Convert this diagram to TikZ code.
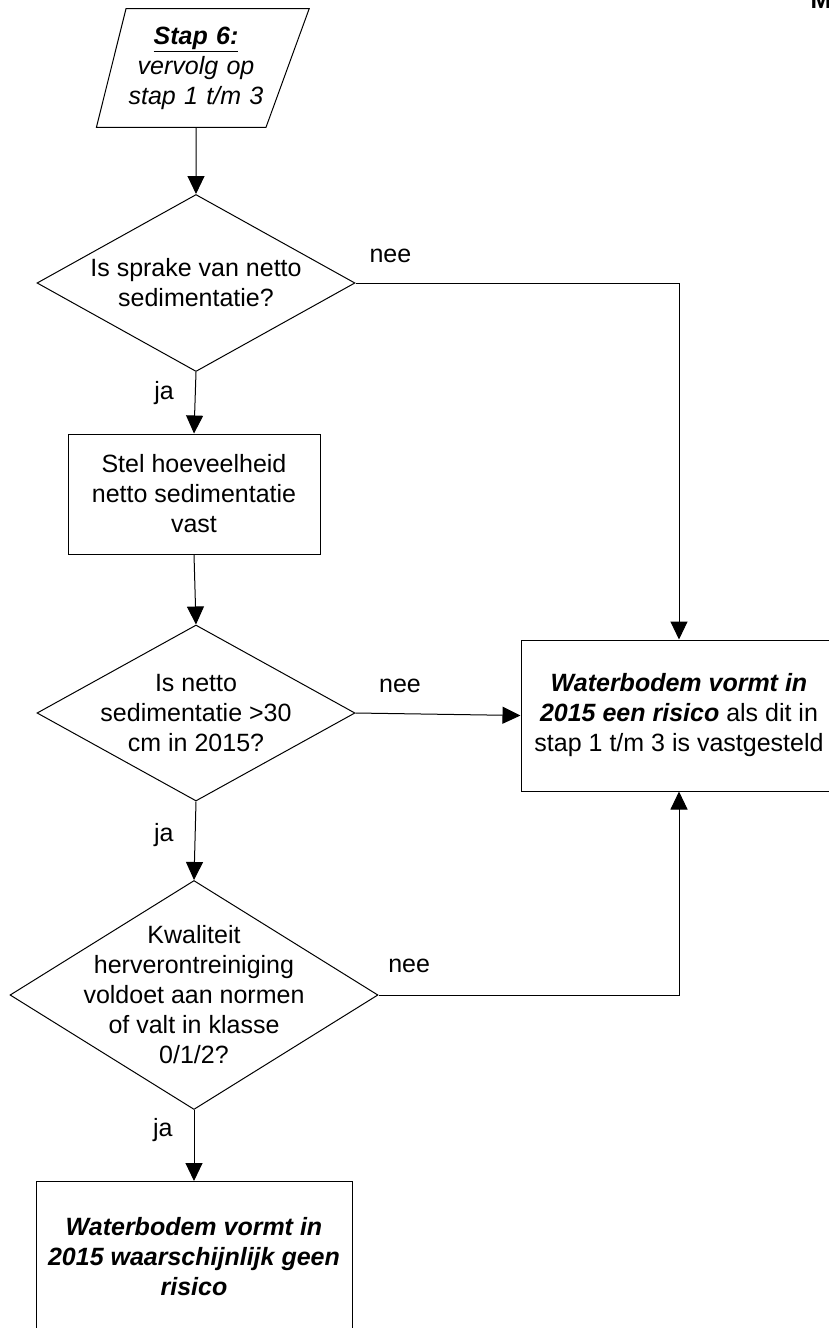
\documentclass[tikz,border=0pt]{standalone}
\usepackage{fontspec}
\setmainfont{Liberation Sans}
\usetikzlibrary{arrows.meta,positioning,shapes.geometric}
\newcommand{\flowfont}{\fontsize{25}{30}\selectfont}
\newcommand{\bi}[1]{\textbf{\textit{#1}}}

\begin{document}
\begin{tikzpicture}[
  x=1pt, y=-1pt, line width=1pt,
  base/.style={draw, align=center, font=\flowfont, inner sep=0pt},
  box/.style={base, rectangle},
  io/.style={base, trapezium, trapezium left angle=76, trapezium right angle=110, text width=140pt, inner ysep=18pt},
  decision/.style={base, diamond},
  lab/.style={font=\flowfont, inner sep=0pt},
  every label/.style={align=center, font=\flowfont, inner sep=0pt},
  >={Triangle[length=18pt, width=17pt]}
]
\useasboundingbox (0,0) rectangle (829,1328);
\node[io] (stap) at (196,68) {\underline{\bi{Stap 6:}}\\\textit{vervolg op}\\\textit{stap 1 t/m 3}};
\node[decision, minimum width=318pt, minimum height=177pt, label={center:Is sprake van netto\\sedimentatie?}] (sed) at (196,283) {};
\node[box, minimum width=252pt, minimum height=120pt] (vast) at (194,494) {Stel hoeveelheid\\netto sedimentatie\\vast};
\node[decision, minimum width=318pt, minimum height=176pt, label={center:Is netto\\sedimentatie >30\\cm in 2015?}] (dertig) at (196,713) {};
\node[decision, minimum width=368pt, minimum height=229pt, label={center:Kwaliteit\\herverontreiniging\\voldoet aan normen\\of valt in klasse\\0/1/2?}] (kwal) at (194,995) {};
\node[box, minimum width=316pt, minimum height=151pt] (risico) at (679,715.5) {\bi{Waterbodem vormt in}\\\bi{2015 een risico} als dit in\\stap 1 t/m 3 is vastgesteld};
\node[box, minimum width=316pt, minimum height=151pt] (geen) at (194,1257) {\bi{Waterbodem vormt in}\\\bi{2015 waarschijnlijk geen}\\\bi{risico}};
\node[lab, font=\flowfont\bfseries, anchor=base west] (kop) at (810,8) {M};

\draw[->] (stap) -- (sed);
\draw[->] (sed.south) -- node[lab, pos=0.34, left=21pt] {ja} (vast.north);
\draw[->] (vast.south) -- (dertig.north);
\draw[->] (dertig.south) -- node[lab, pos=0.43, left=21pt] {ja} (kwal.north);
\draw[->] (kwal.south) -- node[lab, pos=0.28, left=21pt] {ja} (geen.north);
\draw[->] (sed.east) -| node[lab, pos=0.054, above=20pt] {nee} (risico.north);
\draw[->] (dertig.east) -- node[lab, pos=0.27, above=20pt] {nee} (risico.west);
\draw[->] (kwal.east) -| node[lab, pos=0.051, above=22pt] {nee} (risico.south);
\end{tikzpicture}
\end{document}
